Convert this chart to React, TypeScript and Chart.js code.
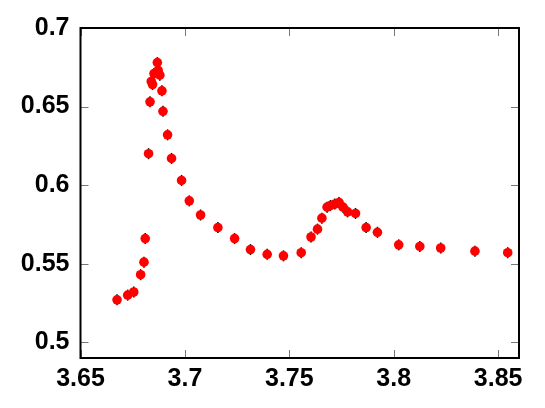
import React, { useEffect, useRef } from "react";
import { Chart, registerables } from "chart.js";

Chart.register(...registerables);

const xValues = [
  3.6675, 3.6726, 3.6755, 3.6788, 3.6804, 3.681, 3.6826, 3.6833, 3.6839, 3.6845,
  3.6852, 3.6868, 3.6872, 3.688, 3.689, 3.6895, 3.6917, 3.6936, 3.6984, 3.7021,
  3.7075, 3.7158, 3.7238, 3.7314, 3.7394, 3.7472, 3.7557, 3.7604, 3.7635, 3.7656,
  3.7681, 3.7697, 3.7718, 3.7738, 3.7757, 3.7779, 3.7817, 3.7868, 3.7922, 3.8024,
  3.8125, 3.8225, 3.8389, 3.8546,
];
const yValues = [
  0.527, 0.53, 0.532, 0.543, 0.551, 0.566, 0.62, 0.653, 0.666, 0.664,
  0.671, 0.678, 0.673, 0.67, 0.66, 0.647, 0.632, 0.617, 0.603, 0.59,
  0.581, 0.573, 0.566, 0.559, 0.556, 0.555, 0.557, 0.567, 0.572, 0.579,
  0.586, 0.587, 0.588, 0.589, 0.586, 0.583, 0.582, 0.573, 0.57, 0.562,
  0.561, 0.56, 0.558, 0.557,
];
const yErrors = [
  0.0035, 0.0035, 0.0035, 0.0035, 0.0035, 0.0035, 0.0035, 0.0035, 0.0035, 0.0035,
  0.0035, 0.0035, 0.0035, 0.0035, 0.0035, 0.0035, 0.0035, 0.0035, 0.0035, 0.0035,
  0.0035, 0.0035, 0.0035, 0.0035, 0.0035, 0.0035, 0.0035, 0.0035, 0.0035, 0.0035,
  0.0035, 0.0035, 0.0035, 0.0035, 0.0035, 0.0035, 0.0035, 0.0035, 0.0035, 0.0035,
  0.0035, 0.0035, 0.0035, 0.0035,
];

const xTickValues = [3.65, 3.7, 3.75, 3.8, 3.85];
const xTickLabels = ["3.65", "3.7", "3.75", "3.8", "3.85"];
const yTickValues = [0.5, 0.55, 0.6, 0.65, 0.7];
const yTickLabels = ["0.5", "0.55", "0.6", "0.65", "0.7"];

const errorBarPlugin = {
  id: "errorBars",
  beforeDatasetsDraw(chart: any) {
    const { ctx, scales } = chart;
    const x = scales.x;
    const y = scales.y;
    ctx.save();
    ctx.strokeStyle = "#000";
    ctx.lineWidth = 1.5;
    for (let i = 0; i < xValues.length; i++) {
      const px = x.getPixelForValue(xValues[i]);
      const y1 = y.getPixelForValue(yValues[i] - yErrors[i]);
      const y2 = y.getPixelForValue(yValues[i] + yErrors[i]);
      ctx.beginPath();
      ctx.moveTo(px, y1);
      ctx.lineTo(px, y2);
      ctx.stroke();
    }
    ctx.restore();
  },
};

const framePlugin = {
  id: "frame",
  afterDraw(chart: any) {
    const { ctx, chartArea, scales } = chart;
    const { left, right, top, bottom } = chartArea;
    const tl = 8;
    ctx.save();
    ctx.strokeStyle = "#777";
    ctx.lineWidth = 1;
    for (const v of xTickValues) {
      const px = Math.round(scales.x.getPixelForValue(v)) + 0.5;
      ctx.beginPath();
      ctx.moveTo(px, bottom);
      ctx.lineTo(px, bottom - tl);
      ctx.moveTo(px, top);
      ctx.lineTo(px, top + tl);
      ctx.stroke();
    }
    for (const v of yTickValues) {
      const py = Math.round(scales.y.getPixelForValue(v)) + 0.5;
      ctx.beginPath();
      ctx.moveTo(left, py);
      ctx.lineTo(left + tl, py);
      ctx.moveTo(right, py);
      ctx.lineTo(right - tl, py);
      ctx.stroke();
    }
    ctx.strokeStyle = "#000";
    ctx.lineWidth = 2;
    ctx.strokeRect(left, top, right - left, bottom - top);
    ctx.restore();
  },
};

export default function App() {
  const ref = useRef<HTMLCanvasElement | null>(null);
  useEffect(() => {
    if (!ref.current) return;
    const data = xValues.map((v, i) => ({ x: v, y: yValues[i] }));
    const font = { family: "'Liberation Sans', Arial, sans-serif", size: 25, weight: "bold" as const };
    const chart = new Chart(ref.current, {
      type: "scatter",
      data: {
        datasets: [
          {
            data,
            backgroundColor: "#ff0000",
            borderColor: "#ff0000",
            borderWidth: 0,
            pointRadius: 4.8,
          },
        ],
      },
      options: {
        animation: false,
        responsive: false,
        events: [],
        layout: { padding: { left: 0, right: 26, top: 28, bottom: 0 } },
        plugins: { legend: { display: false }, tooltip: { enabled: false } },
        scales: {
          x: {
            type: "linear",
            min: 3.65,
            max: 3.86,
            grid: { display: false, drawTicks: false },
            border: { display: false },
            afterBuildTicks: (s: any) => {
              s.ticks = xTickValues.map((v) => ({ value: v }));
            },
            afterFit: (s: any) => {
              s.height = 50;
            },
            ticks: {
              color: "#000",
              font,
              padding: 6,
              maxRotation: 0,
              autoSkip: false,
              callback: (_v: any, i: number) => xTickLabels[i],
            },
          },
          y: {
            type: "linear",
            min: 0.49,
            max: 0.7,
            grid: { display: false, drawTicks: false },
            border: { display: false },
            afterBuildTicks: (s: any) => {
              s.ticks = yTickValues.map((v) => ({ value: v }));
            },
            afterFit: (s: any) => {
              s.width = 80.5;
            },
            ticks: {
              color: "#000",
              font,
              padding: 11,
              autoSkip: false,
              callback: (_v: any, i: number) => yTickLabels[i],
            },
          },
        },
      },
      plugins: [errorBarPlugin, framePlugin],
    });
    return () => chart.destroy();
  }, []);
  return (
    <canvas
      ref={ref}
      width={545}
      height={408}
      style={{ position: "absolute", left: 0, top: 0, width: 545, height: 408, display: "block" }}
    />
  );
}
